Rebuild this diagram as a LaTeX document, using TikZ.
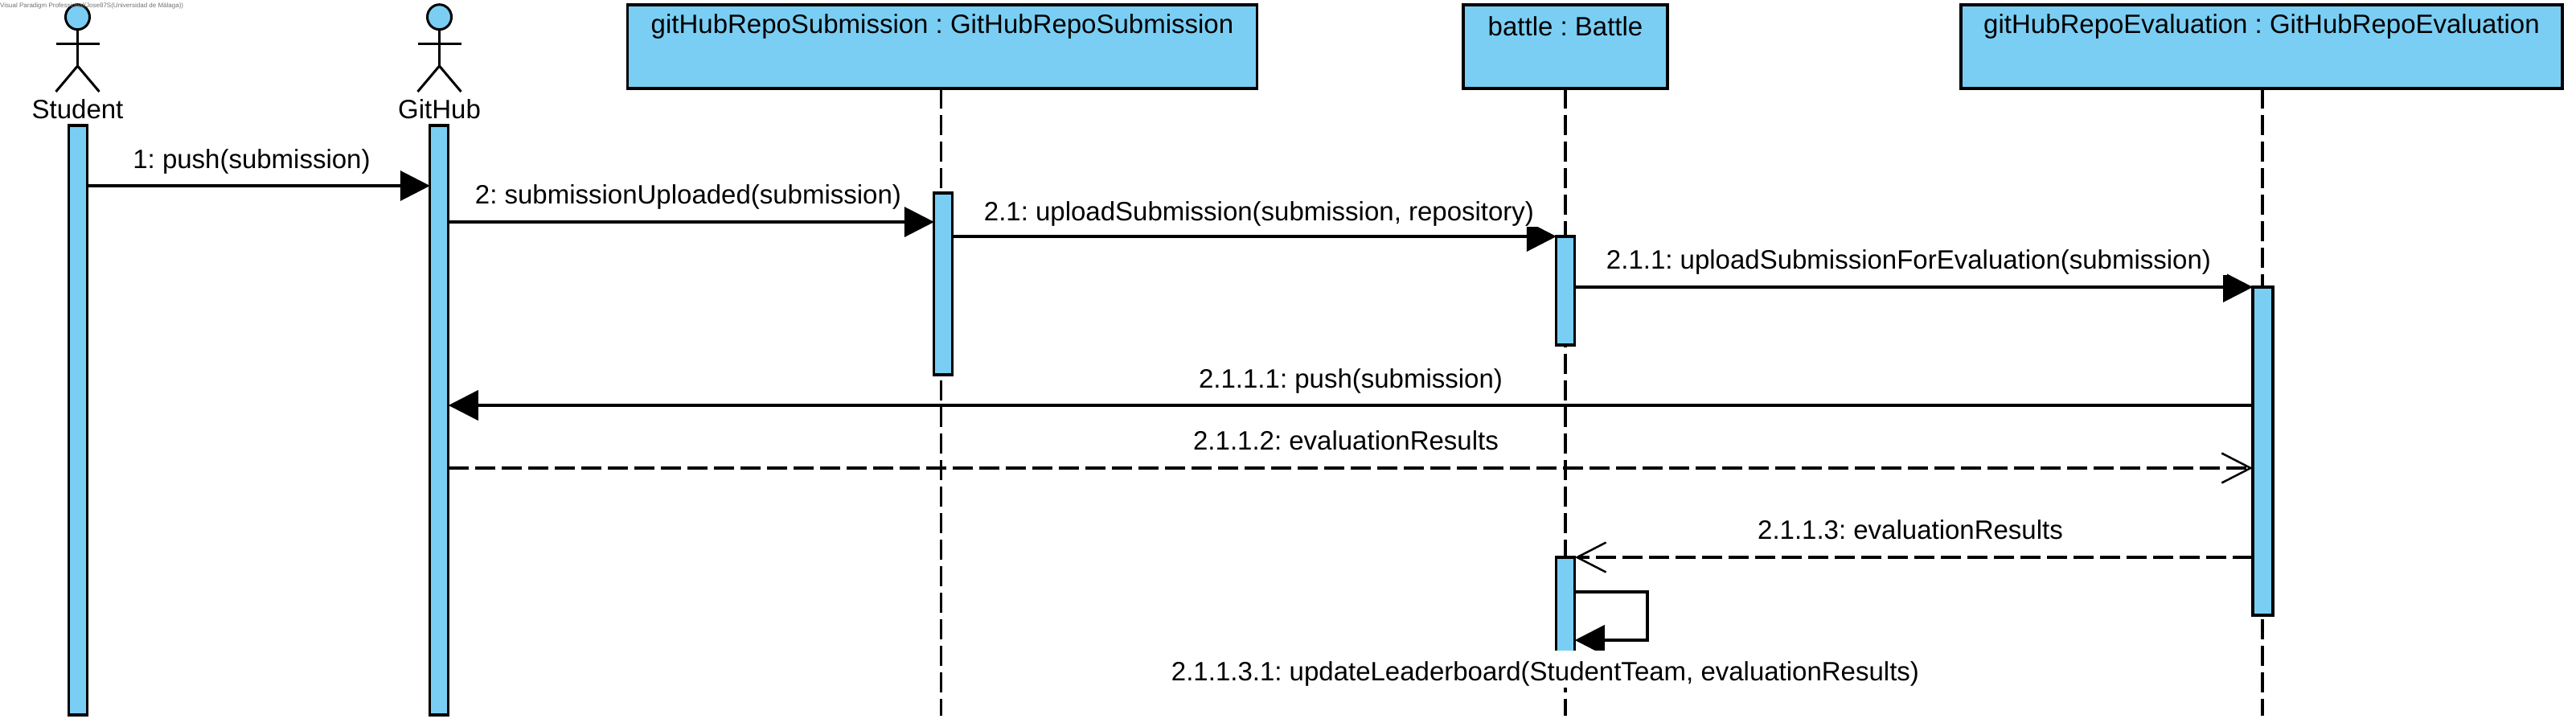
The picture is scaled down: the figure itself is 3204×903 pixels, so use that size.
\documentclass[tikz,border=0pt]{standalone}
\usepackage{fontspec}
\setmainfont{Liberation Sans}
\usetikzlibrary{arrows.meta,calc,shapes.geometric}
\definecolor{vpblue}{HTML}{7ACEF4}
\tikzset{
  x=1pt,y=-1pt,
  every node/.append style={execute at begin node=\frenchspacing},
  lineL/.style={line width=3.2pt,draw=black,dash pattern=on 24.7pt off 8.3pt},
  objbox/.style={draw=black,fill=vpblue,line width=3.2pt,minimum height=104pt,inner sep=0pt,outer sep=0pt},
  txt/.style={inner sep=0pt,font=\fontsize{33}{36}\selectfont},
  actbar/.style={draw=black,fill=vpblue,line width=3.2pt,minimum width=23pt,inner sep=0pt,outer sep=0pt},
  lbl/.style={fill=white,inner sep=0pt,minimum height=40pt,text height=32pt,text depth=8pt,font=\fontsize{33}{36}\selectfont,anchor=center},
  msgS/.style={line width=3.2pt,-{Triangle[length=37pt,width=38pt,line width=0pt]}},
  msgD/.style={line width=3.2pt,dash pattern=on 24.7pt off 8.3pt,-{Straight Barb[length=36pt,width=37pt,line width=2.5pt]}},
  actorline/.style={line width=3pt,line cap=butt}
}
\newcommand{\actfig}[2]{%
  \draw[actorline] (#1,36.7) -- (#1,82);
  \draw[actorline] (#1-27,54) -- (#1+27,54);
  \draw[actorline] (#1-27,114) -- (#1,82) -- (#1+27,114);
  \node[draw=black,fill=vpblue,line width=3pt,ellipse,minimum width=30pt,minimum height=31pt,inner sep=0pt] (#2head) at (#1,21.2) {};
}
\begin{document}
\begin{tikzpicture}
\useasboundingbox (0,0) rectangle (3204,903);
\fill[white] (0,0) rectangle (3204,903);
% coordinates for message rows
\coordinate (m1) at (0,231);
\coordinate (m2) at (0,276);
\coordinate (m3) at (0,294);
\coordinate (m4) at (0,357);
\coordinate (m5) at (0,504);
\coordinate (m6) at (0,582);
\coordinate (m7) at (0,693);
\coordinate (loopA) at (2049,736);
\coordinate (loopB) at (2049,796);
% lifelines
\coordinate (sub0) at (1170.7,110); \coordinate (sub1) at (1170.7,890);
\coordinate (bat0) at (1947,110); \coordinate (bat1) at (1947,890);
\coordinate (eva0) at (2814,110); \coordinate (eva1) at (2814,890);
\draw[lineL] (sub0) -- (sub1);
\draw[lineL] (bat0) -- (bat1);
\draw[lineL] (eva0) -- (eva1);
% object boxes
\node[objbox,minimum width=783pt] (subbox) at (1172,58) {};
\node[txt] (subtxt) at (1172,33) {gitHubRepoSubmission : GitHubRepoSubmission};
\node[objbox,minimum width=254pt] (batbox) at (1947,58) {};
\node[txt] (battxt) at (1947,33) {battle : Battle};
\node[objbox,minimum width=748pt] (evabox) at (2813,58) {};
\node[txt] (evatxt) at (2813,33) {gitHubRepoEvaluation : GitHubRepoEvaluation};
% activations
\node[actbar,minimum height=733pt] (aStu) at (97,522.5) {};
\node[actbar,minimum height=733pt] (aGit) at (546.3,522.5) {};
\node[actbar,minimum height=226pt] (aSub) at (1173.3,353) {};
\node[actbar,minimum height=135pt] (aBat) at (1947.3,361.5) {};
\node[actbar,minimum width=25pt,minimum height=408pt] (aEva) at (2814.5,561) {};
\node[actbar,minimum height=137pt] (aBat2) at (1947.3,761.5) {};
% actors
\actfig{96.5}{stu}
\actfig{546.5}{git}
\node[txt] (stuName) at (96.5,136) {Student};
\node[txt] (gitName) at (546.5,136) {GitHub};
% messages
\draw[msgS] (aStu.east |- m1) -- (aGit.west |- m1);
\draw[msgS] (aGit.east |- m2) -- (aSub.west |- m2);
\draw[msgS] (aSub.east |- m3) -- (aBat.west |- m3);
\draw[msgS] (aBat.east |- m4) -- (aEva.west |- m4);
\draw[msgS] (aEva.west |- m5) -- (aGit.east |- m5);
\draw[msgD] (aGit.east |- m6) -- (aEva.west |- m6);
\draw[msgD] (aEva.west |- m7) -- (aBat2.east |- m7);
\draw[msgS] (aBat2.east |- loopA) -- (loopA) -- (loopB) -- (aBat2.east |- loopB);
% labels
\node[lbl] (l1) at (313,197) {1: push(submission)};
\node[lbl] (l2) at (856,241) {2: submissionUploaded(submission)};
\node[lbl,inner xsep=20pt] (l3) at (1566,262) {2.1: uploadSubmission(submission, repository)};
\node[lbl,inner xsep=20pt] (l4) at (2374,322) {2.1.1: uploadSubmissionForEvaluation(submission)};
\node[lbl] (l5) at (1680,470) {2.1.1.1: push(submission)};
\node[lbl] (l6) at (1674,547) {2.1.1.2: evaluationResults};
\node[lbl] (l7) at (2376,658) {2.1.1.3: evaluationResults};
\node[lbl,minimum height=46pt,text height=37pt,text depth=9pt] (l8) at (1922,832) {2.1.1.3.1: updateLeaderboard(StudentTeam, evaluationResults)};
% watermark
\node[anchor=west,inner sep=0pt,text=black!55,font=\fontsize{8}{9}\selectfont] (wm) at (0,7) {Visual Paradigm Professional(Jose87S(Universidad de Málaga))};
\end{tikzpicture}
\end{document}
